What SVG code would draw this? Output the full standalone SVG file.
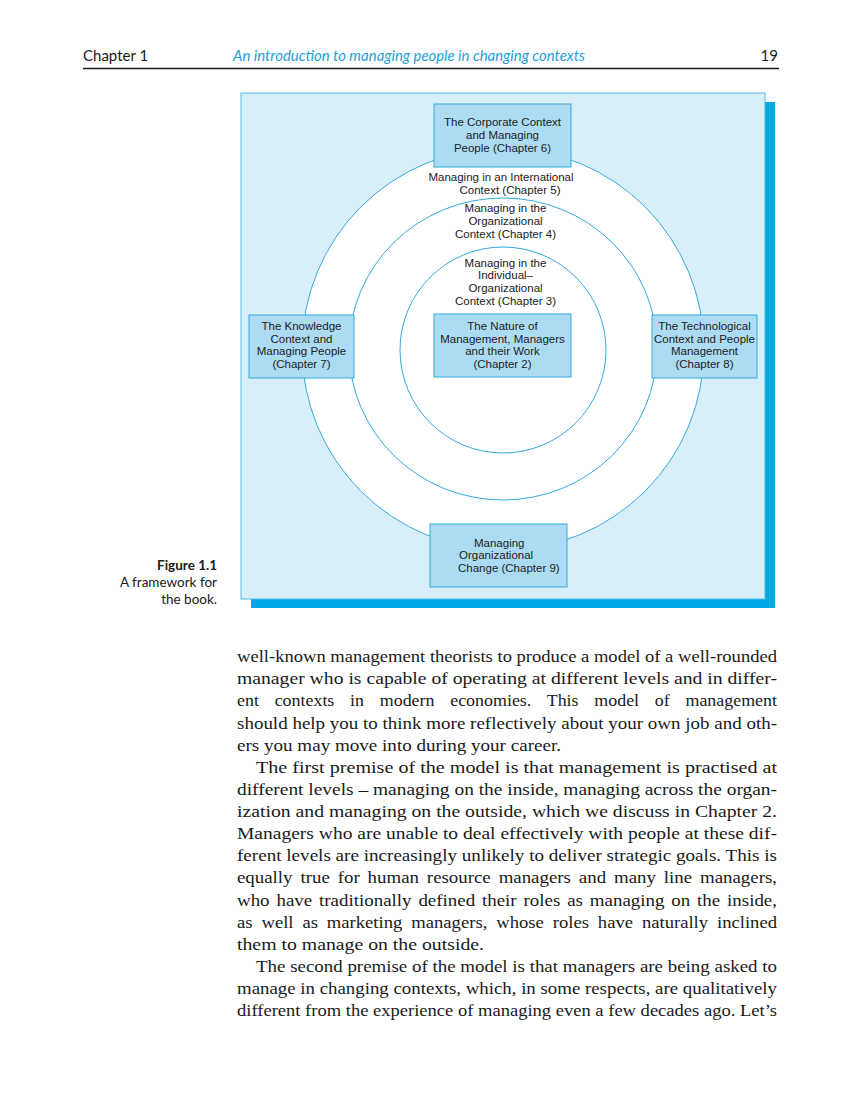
<svg xmlns="http://www.w3.org/2000/svg" width="857" height="1115" viewBox="0 0 857 1115">
<style>
.hdr{font-family:Lato,"Open Sans",sans-serif;font-size:15px;fill:#1a1a1a}
.ttl{font-family:Lato,"Open Sans",sans-serif;font-style:italic;font-size:14.5px;fill:#1e9fdb}
.lbl{font-family:"Liberation Sans",Arial,sans-serif;font-size:11.5px;fill:#222;text-anchor:middle}
.box{fill:#abdcf3;stroke:#35a9de;stroke-width:1}
.ring{fill:none;stroke:#35a9de;stroke-width:1}
.cap{font-family:Lato,"Open Sans",sans-serif;font-size:13.5px;fill:#1a1a1a;text-anchor:end}
.body{font-family:"Liberation Serif","Times New Roman",serif;font-size:17.5px;fill:#1a1a1a}
</style>
<rect width="857" height="1115" fill="#ffffff"/>
<g id="header">
<text class="hdr" x="83" y="61">Chapter 1</text>
<text class="ttl" x="233" y="61" textLength="352" lengthAdjust="spacingAndGlyphs">An introduction to managing people in changing contexts</text>
<text class="hdr" x="778" y="61" text-anchor="end">19</text>
<line x1="83" y1="68.5" x2="779" y2="68.5" stroke="#1a1a1a" stroke-width="1.5"/>
</g>
<g id="panel">
<rect x="251" y="102" width="524" height="506" fill="#00a8e6"/>
<rect x="241" y="93" width="524" height="506" fill="#d8eef9" stroke="#52bbe6" stroke-width="1"/>
</g>
<g id="connectors">
<circle cx="503" cy="349" r="201" class="ring" style="fill:#fff"/>
<ellipse cx="503" cy="349" rx="154" ry="151" class="ring"/>
<circle cx="503" cy="350" r="103" class="ring"/>
</g>
<g id="ring5">
<text class="lbl" x="501" y="181">Managing in an International</text>
<text class="lbl" x="510" y="194">Context (Chapter 5)</text>
</g>
<g id="ring4">
<text class="lbl" x="505.5" y="212">Managing in the</text>
<text class="lbl" x="505.5" y="225">Organizational</text>
<text class="lbl" x="505.5" y="238">Context (Chapter 4)</text>
</g>
<g id="ring3">
<text class="lbl" x="505.5" y="266.5">Managing in the</text>
<text class="lbl" x="505.5" y="279">Individual–</text>
<text class="lbl" x="505.5" y="292">Organizational</text>
<text class="lbl" x="505.5" y="305">Context (Chapter 3)</text>
</g>
<g id="corporate">
<rect class="box" x="434" y="104" width="137" height="63"/>
<text class="lbl" x="502.5" y="125.5">The Corporate Context</text>
<text class="lbl" x="502.5" y="138.5">and Managing</text>
<text class="lbl" x="502.5" y="151.5">People (Chapter 6)</text>
</g>
<g id="nature">
<rect class="box" x="434" y="314" width="137" height="63"/>
<text class="lbl" x="502.5" y="330">The Nature of</text>
<text class="lbl" x="502.5" y="342.5">Management, Managers</text>
<text class="lbl" x="502.5" y="355">and their Work</text>
<text class="lbl" x="502.5" y="367.5">(Chapter 2)</text>
</g>
<g id="knowledge">
<rect class="box" x="249" y="315" width="105" height="63"/>
<text class="lbl" x="301.5" y="330">The Knowledge</text>
<text class="lbl" x="301.5" y="342.5">Context and</text>
<text class="lbl" x="301.5" y="355">Managing People</text>
<text class="lbl" x="301.5" y="367.5">(Chapter 7)</text>
</g>
<g id="technological">
<rect class="box" x="652" y="315" width="105" height="63"/>
<text class="lbl" x="704.5" y="330">The Technological</text>
<text class="lbl" x="704.5" y="342.5">Context and People</text>
<text class="lbl" x="704.5" y="355">Management</text>
<text class="lbl" x="704.5" y="367.5">(Chapter 8)</text>
</g>
<g id="change">
<rect class="box" x="430" y="524" width="137" height="63"/>
<text class="lbl" x="474" y="546.5" style="text-anchor:start">Managing</text>
<text class="lbl" x="459" y="559" style="text-anchor:start">Organizational</text>
<text class="lbl" x="458" y="571.5" style="text-anchor:start">Change (Chapter 9)</text>
</g>
<g id="caption">
<text class="cap" x="217" y="570" font-weight="bold">Figure 1.1</text>
<text class="cap" x="217" y="587">A framework for</text>
<text class="cap" x="217" y="604">the book.</text>
</g>
<g id="bodytext" class="body">
<text x="237" y="662" textLength="540" lengthAdjust="spacingAndGlyphs">well-known management theorists to produce a model of a well-rounded</text>
<text x="237" y="684" textLength="540" lengthAdjust="spacingAndGlyphs">manager who is capable of operating at different levels and in differ-</text>
<text x="237" y="706" textLength="540" lengthAdjust="spacingAndGlyphs" word-spacing="11">ent contexts in modern economies. This model of management</text>
<text x="237" y="728.5" textLength="540" lengthAdjust="spacingAndGlyphs">should help you to think more reflectively about your own job and oth-</text>
<text x="237" y="750.5" textLength="324" lengthAdjust="spacingAndGlyphs">ers you may move into during your career.</text>
<text x="256" y="773" textLength="521" lengthAdjust="spacingAndGlyphs">The first premise of the model is that management is practised at</text>
<text x="237" y="795" textLength="540" lengthAdjust="spacingAndGlyphs">different levels – managing on the inside, managing across the organ-</text>
<text x="237" y="817" textLength="540" lengthAdjust="spacingAndGlyphs">ization and managing on the outside, which we discuss in Chapter 2.</text>
<text x="237" y="839" textLength="540" lengthAdjust="spacingAndGlyphs">Managers who are unable to deal effectively with people at these dif-</text>
<text x="237" y="861" textLength="540" lengthAdjust="spacingAndGlyphs">ferent levels are increasingly unlikely to deliver strategic goals. This is</text>
<text x="237" y="883" textLength="540" lengthAdjust="spacingAndGlyphs" word-spacing="3">equally true for human resource managers and many line managers,</text>
<text x="237" y="905.5" textLength="540" lengthAdjust="spacingAndGlyphs" word-spacing="2">who have traditionally defined their roles as managing on the inside,</text>
<text x="237" y="927.5" textLength="540" lengthAdjust="spacingAndGlyphs" word-spacing="4">as well as marketing managers, whose roles have naturally inclined</text>
<text x="237" y="949.5" textLength="247" lengthAdjust="spacingAndGlyphs">them to manage on the outside.</text>
<text x="256" y="972" textLength="521" lengthAdjust="spacingAndGlyphs">The second premise of the model is that managers are being asked to</text>
<text x="237" y="994" textLength="540" lengthAdjust="spacingAndGlyphs">manage in changing contexts, which, in some respects, are qualitatively</text>
<text x="237" y="1016" textLength="540" lengthAdjust="spacingAndGlyphs">different from the experience of managing even a few decades ago. Let’s</text>
</g>
</svg>
